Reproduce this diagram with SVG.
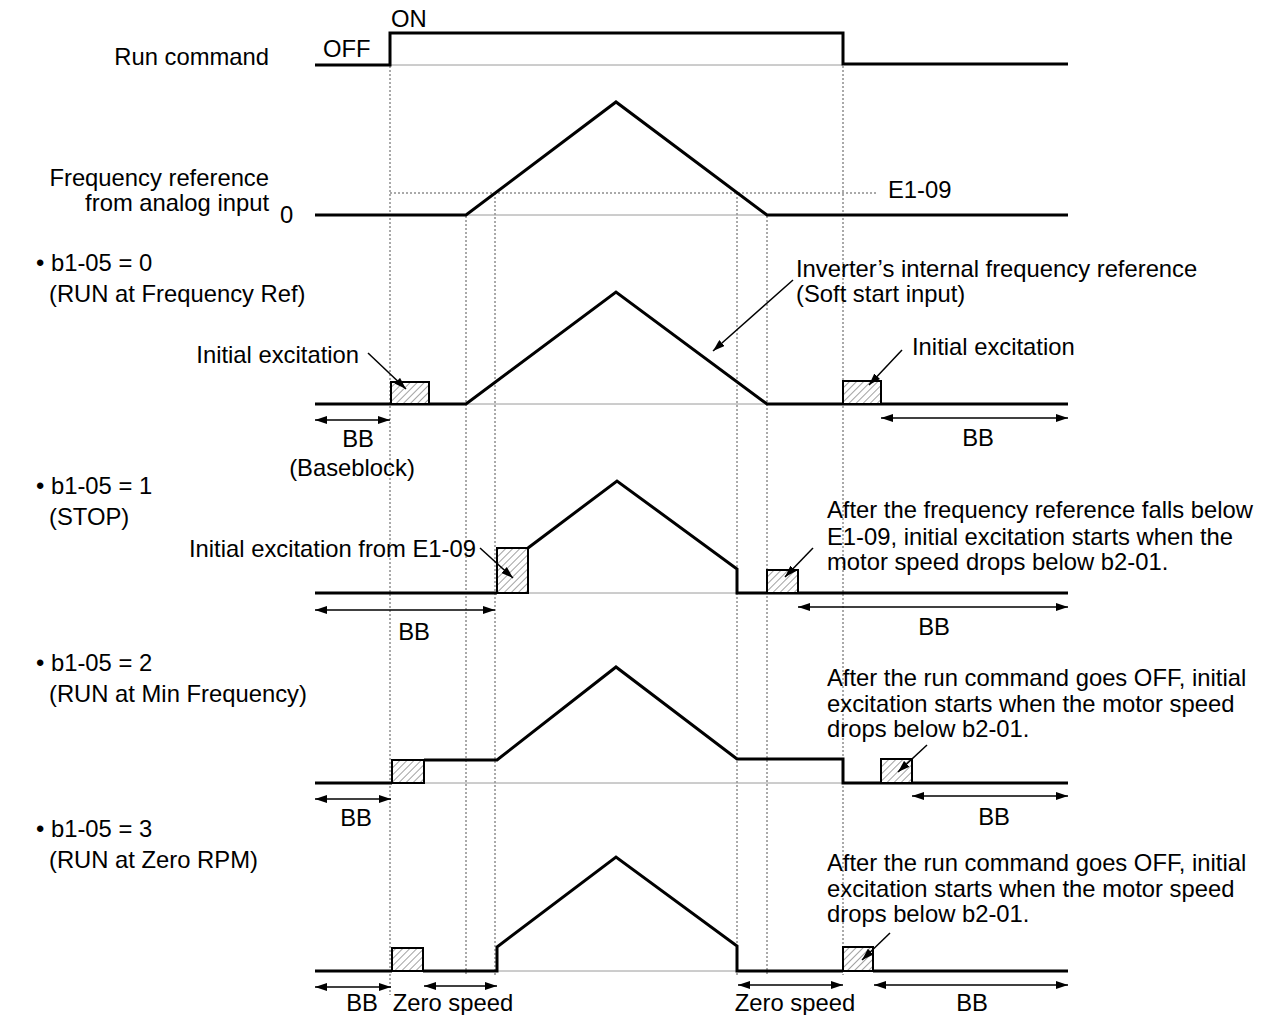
<svg xmlns="http://www.w3.org/2000/svg" width="1267" height="1015" viewBox="0 0 1267 1015">
<style>
text{font-family:"Liberation Sans",Arial,sans-serif;font-size:23.8px;fill:#000}
.e{text-anchor:end}.m{text-anchor:middle}
.wave{fill:none;stroke:#000;stroke-width:3;stroke-linejoin:miter}
.thin{fill:none;stroke:#9a9a9a;stroke-width:1}
.dash{fill:none;stroke:#555;stroke-width:1;stroke-dasharray:2 2}
.box{fill:url(#hatch);stroke:#000;stroke-width:2}
.dim{stroke:#000;stroke-width:1.6;marker-start:url(#ah);marker-end:url(#ah)}
.lead{stroke:#000;stroke-width:1.5;marker-end:url(#ah)}
</style>
<defs>
<pattern id="hatch" patternUnits="userSpaceOnUse" width="5" height="5" patternTransform="rotate(45)">
<rect width="5" height="5" fill="#fff"/>
<line x1="0" y1="0" x2="0" y2="5" stroke="#555" stroke-width="1.1"/>
</pattern>
<marker id="ah" markerUnits="userSpaceOnUse" markerWidth="12" markerHeight="8" refX="12" refY="4" orient="auto-start-reverse">
<path d="M0,0 L12,4 L0,8 z" fill="#000"/>
</marker>
</defs>

<g id="guides">
<line class="dash" x1="390" y1="66" x2="390" y2="995"/>
<line class="dash" x1="466" y1="216" x2="466" y2="975"/>
<line class="dash" x1="495" y1="193" x2="495" y2="975"/>
<line class="dash" x1="737" y1="193" x2="737" y2="975"/>
<line class="dash" x1="767" y1="216" x2="767" y2="975"/>
<line class="dash" x1="843" y1="66" x2="843" y2="975"/>
<line class="dash" x1="390" y1="193" x2="878" y2="193"/>
<line class="thin" x1="390" y1="65" x2="843" y2="65"/>
<line class="thin" x1="466" y1="215" x2="767" y2="215"/>
<line class="thin" x1="466" y1="404" x2="767" y2="404"/>
<line class="thin" x1="528" y1="593" x2="737" y2="593"/>
<line class="thin" x1="424" y1="783" x2="843" y2="783"/>
<line class="thin" x1="497" y1="971" x2="737" y2="971"/>
</g>

<g id="run-command">
<text class="e" x="269" y="65">Run command</text>
<text x="323" y="57">OFF</text>
<text x="391" y="27">ON</text>
<path class="wave" d="M315,65 H390 V33 H843 V64 H1068"/>
</g>

<g id="freq-ref">
<text class="e" x="269" y="186">Frequency reference</text>
<text class="e" x="269" y="211">from analog input</text>
<text x="280" y="223">0</text>
<text x="888" y="198">E1-09</text>
<path class="wave" d="M315,215 H466 L616,102 L767,215 H1068"/>
</g>

<g id="b1-05-0">
<text x="36" y="271">• b1-05 = 0</text>
<text x="49" y="302">(RUN at Frequency Ref)</text>
<path class="wave" d="M315,404 H466 L616,292 L767,404 H1068"/>
<rect class="box" x="391" y="382" width="38" height="22"/>
<rect class="box" x="843" y="381" width="38" height="23"/>
<text class="e" x="359" y="363">Initial excitation</text>
<text x="912" y="355">Initial excitation</text>
<text x="796" y="277">Inverter’s internal frequency reference</text>
<text x="796" y="302">(Soft start input)</text>
<text class="m" x="358" y="447">BB</text>
<text class="m" x="352" y="476">(Baseblock)</text>
<text class="m" x="978" y="446">BB</text>
</g>

<g id="b1-05-1">
<text x="36" y="494">• b1-05 = 1</text>
<text x="49" y="525">(STOP)</text>
<path class="wave" d="M315,593 H497 M528,548 L617,481 L737,569 V593 H1068"/>
<rect class="box" x="497" y="548" width="31" height="45"/>
<rect class="box" x="767" y="570" width="31" height="23"/>
<text class="e" x="476" y="557">Initial excitation from E1-09</text>
<text x="827" y="518">After the frequency reference falls below</text>
<text x="827" y="545">E1-09, initial excitation starts when the</text>
<text x="827" y="570">motor speed drops below b2-01.</text>
<text class="m" x="414" y="640">BB</text>
<text class="m" x="934" y="635">BB</text>
</g>

<g id="b1-05-2">
<text x="36" y="671">• b1-05 = 2</text>
<text x="49" y="702">(RUN at Min Frequency)</text>
<path class="wave" d="M315,783 H392 M424,760 H497 L616,667 L737,759 H843 V783 H1068"/>
<rect class="box" x="392" y="760" width="32" height="23"/>
<rect class="box" x="881" y="759" width="31" height="24"/>
<text x="827" y="686">After the run command goes OFF, initial</text>
<text x="827" y="712">excitation starts when the motor speed</text>
<text x="827" y="737">drops below b2-01.</text>
<text class="m" x="356" y="826">BB</text>
<text class="m" x="994" y="825">BB</text>
</g>

<g id="b1-05-3">
<text x="36" y="837">• b1-05 = 3</text>
<text x="49" y="868">(RUN at Zero RPM)</text>
<path class="wave" d="M315,971 H392 M423,971 H497 V947 L616,857 L737,946 V971 H843 M873,971 H1068"/>
<rect class="box" x="392" y="948" width="31" height="23"/>
<rect class="box" x="843" y="947" width="30" height="24"/>
<text x="827" y="871">After the run command goes OFF, initial</text>
<text x="827" y="897">excitation starts when the motor speed</text>
<text x="827" y="922">drops below b2-01.</text>
<text class="m" x="362" y="1011">BB</text>
<text class="m" x="453" y="1011">Zero speed</text>
<text class="m" x="795" y="1011">Zero speed</text>
<text class="m" x="972" y="1011">BB</text>
</g>

<g id="connectors">
<line class="lead" x1="368" y1="353" x2="406" y2="389"/>
<line class="lead" x1="902" y1="350" x2="869" y2="385"/>
<line class="lead" x1="793" y1="280" x2="713" y2="351"/>
<line class="lead" x1="480" y1="548" x2="513" y2="578"/>
<line class="lead" x1="813" y1="548" x2="785" y2="577"/>
<line class="lead" x1="927" y1="745" x2="898" y2="772"/>
<line class="lead" x1="890" y1="933" x2="862" y2="960"/>
<line class="dim" x1="315" y1="420" x2="390" y2="420"/>
<line class="dim" x1="881" y1="418" x2="1068" y2="418"/>
<line class="dim" x1="315" y1="610" x2="495" y2="610"/>
<line class="dim" x1="798" y1="607" x2="1068" y2="607"/>
<line class="dim" x1="315" y1="799" x2="391" y2="799"/>
<line class="dim" x1="912" y1="796" x2="1068" y2="796"/>
<line class="dim" x1="315" y1="987" x2="391" y2="987"/>
<line class="dim" x1="424" y1="986" x2="497" y2="986"/>
<line class="dim" x1="738" y1="985" x2="843" y2="985"/>
<line class="dim" x1="874" y1="985" x2="1068" y2="985"/>
</g>
</svg>
